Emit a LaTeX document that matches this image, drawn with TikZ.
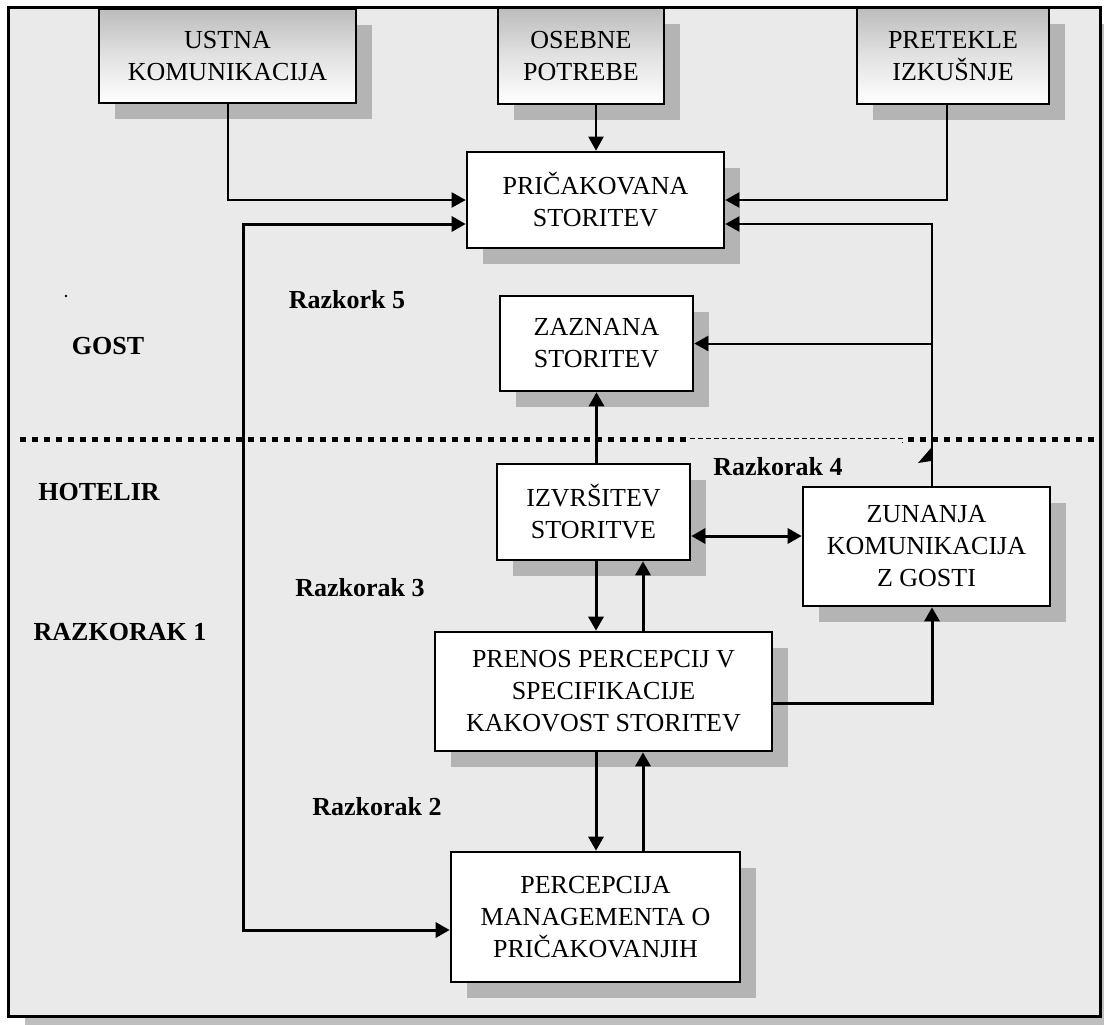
\documentclass[tikz,border=0pt]{standalone}
\usepackage{fontspec}
\setmainfont{Liberation Serif}
\usetikzlibrary{arrows.meta,shadows}
\definecolor{bgcol}{RGB}{234,234,234}
\definecolor{shcol}{RGB}{180,180,180}
\definecolor{frsh}{RGB}{190,190,190}
\definecolor{gtop}{RGB}{188,188,188}
\tikzset{
  txt/.style={font=\fontsize{13}{16}\selectfont, align=center},
  lbl/.style={font=\fontsize{13}{16}\selectfont\bfseries},
  boxbase/.style={txt, draw=black, line width=1.3pt, inner sep=0pt,
    drop shadow={shadow xshift=8pt, shadow yshift=-8pt, fill=shcol, opacity=1}},
  wbox/.style={boxbase, fill=white},
  gbox/.style={boxbase, top color=gtop, bottom color=white, middle color={rgb,255:red,226;green,226;blue,226}},
  tip/.tip={Triangle[length=7pt,width=7.5pt]},
  conn/.style={line width=1pt, -tip},
  connb/.style={line width=1.5pt, -tip},
}
\begin{document}
\begin{tikzpicture}[x=0.5pt,y=-0.5pt]
\useasboundingbox (0,0) rectangle (1104,1024);
% frame
\fill[frsh] (25,24) rectangle (1110,1034);
\draw[line width=1.5pt, fill=bgcol] (8,7) rectangle (1100,1016);

% top boxes
\node[gbox, minimum width=128.5pt, minimum height=47pt] (ustna) at (227.5,56) {USTNA\\KOMUNIKACIJA};
\node[gbox, minimum width=83pt, minimum height=48pt] (osebne) at (581,56) {OSEBNE\\POTREBE};
\node[gbox, minimum width=96pt, minimum height=48pt] (pretekle) at (953,56) {PRETEKLE\\IZKUŠNJE};

% white boxes
\node[wbox, minimum width=128.5pt, minimum height=48pt] (pric) at (595.5,200) {PRIČAKOVANA\\STORITEV};
\node[wbox, minimum width=96.5pt, minimum height=47.5pt] (zaznana) at (596.5,343.5) {ZAZNANA\\STORITEV};
\node[wbox, minimum width=96.5pt, minimum height=48pt] (izvr) at (593.5,512) {IZVRŠITEV\\STORITVE};
\node[wbox, minimum width=123.5pt, minimum height=59.5pt] (zunanja) at (926.5,546.5) {ZUNANJA\\KOMUNIKACIJA\\Z GOSTI};
\node[wbox, minimum width=168.5pt, minimum height=59.5pt] (prenos) at (603.5,691.5) {PRENOS PERCEPCIJ V\\SPECIFIKACIJE\\KAKOVOST STORITEV};
\node[wbox, minimum width=144.5pt, minimum height=65pt] (perc) at (595.5,917) {PERCEPCIJA\\MANAGEMENTA O\\PRIČAKOVANJIH};

% dotted divider
\draw[line width=2.5pt, dash pattern=on 3pt off 3pt] (20,439) -- (687,439);
\draw[line width=0.5pt, dash pattern=on 2.5pt off 1.5pt] (690,438) -- (902,438) -- (902,443);
\draw[line width=2.5pt, dash pattern=on 3pt off 3pt] (908,439) -- (1094,439);

% coordinates
\coordinate (L1) at (243,224);
\coordinate (L2) at (243,930);
\coordinate (R1) at (932,224);
\coordinate (R2) at (932,343.5);
\coordinate (R3) at (932,703);
\coordinate (T1) at (596,0);
\coordinate (T2) at (643,0);

% top connectors
\draw[conn] (ustna.south) |- (pric.west);
\draw[conn] (pretekle.south -| 947,0) |- (pric.east);
\draw[conn] (osebne.south -| T1) -- (pric.north -| T1);

% left loop
\draw[line width=1.5pt, tip-tip] (pric.west |- L1) -- (L1) -- (L2) -- (perc.west |- L2);

% right side
\draw[conn] (zunanja.north -| R1) -- (R1) -- (pric.east |- R1);
\draw[conn] (R2) -- (zaznana.east |- R2);
\fill (918,463) -- (931,448) -- (931,461) -- cycle;
\draw[connb] (prenos.east |- R3) -- (R3) -- (zunanja.south -| R3);

% middle column
\draw[connb] (izvr.north -| zaznana.south) -- (zaznana.south);
\draw[line width=1.5pt, tip-tip] (izvr.east |- 0,536) -- (zunanja.west |- 0,536);
\draw[connb] (izvr.south -| T1) -- (prenos.north -| T1);
\draw[connb] (prenos.north -| T2) -- (izvr.south -| T2);
\draw[connb] (prenos.south -| T1) -- (perc.north -| T1);
\draw[connb] (perc.north -| T2) -- (prenos.south -| T2);

% labels
\fill (66,296) circle (1.3);
\node[lbl] (r5) at (347,300) {Razkork 5};
\node[lbl] (gost) at (108,346) {GOST};
\node[lbl] (hotelir) at (99,492) {HOTELIR};
\node[lbl] (rk1) at (120,632) {RAZKORAK 1};
\node[lbl] (r4) at (778,467) {Razkorak 4};
\node[lbl] (r3) at (360,588) {Razkorak 3};
\node[lbl] (r2) at (377,807) {Razkorak 2};
\end{tikzpicture}
\end{document}
